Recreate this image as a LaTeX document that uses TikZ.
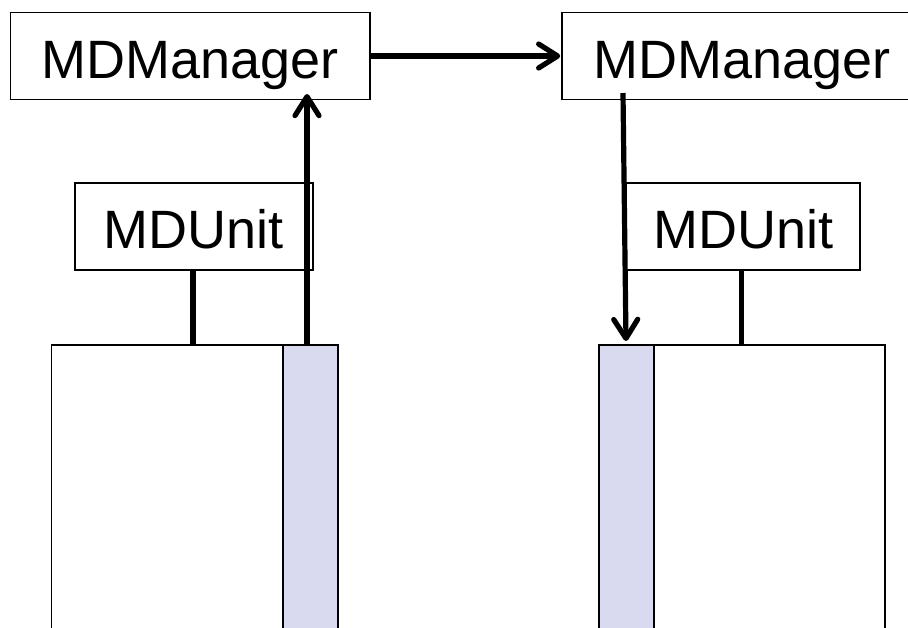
\documentclass[tikz,border=0pt]{standalone}
\usepackage{fontspec}
\setmainfont{Liberation Sans}
\usetikzlibrary{arrows.meta}
\definecolor{stripfill}{HTML}{D9D9F0}
\tikzset{
  box/.style={draw=black, line width=1.5pt, fill=white, inner sep=0pt,
    text height=44pt, text depth=0pt,
    font=\fontsize{54}{60}\selectfont},
  cell/.style={draw=black, line width=1.5pt, fill=white, inner sep=0pt},
  strip/.style={draw=black, line width=1.5pt, fill=stripfill, inner sep=0pt},
  link/.style={line width=5.2pt},
  arr/.style={line width=5.2pt,
    -{Straight Barb[length=19pt,width=24pt,line cap=round,line join=round]}},
}
\begin{document}
\begin{tikzpicture}[x=1pt,y=-1pt]
  \useasboundingbox (0,0) rectangle (908,627);
  \clip (0,0) rectangle (908,627);

  % memory areas, open towards the bottom
  \node[cell, minimum width=286.3pt, minimum height=300pt, anchor=north west] (cellA) at (50.7,344) {};
  \node[strip, minimum width=55pt, minimum height=300pt, anchor=north west] (stripA) at (282,344) {};
  \node[cell, minimum width=286pt, minimum height=300pt, anchor=north west] (cellB) at (598,344) {};
  \node[strip, minimum width=55pt, minimum height=300pt, anchor=north west] (stripB) at (598,344) {};

  % managers and units
  \node[box, minimum width=359.7pt, minimum height=86.6pt] (mgrA) at (190.2,56) {MDManager};
  \node[box, minimum width=360pt, minimum height=86.6pt] (mgrB) at (742,56) {MDManager};
  \node[box, minimum width=238pt, minimum height=87pt] (unitA) at (194,226.5) {MDUnit};
  \node[box, minimum width=233.3pt, minimum height=87pt] (unitB) at (743.3,226.5) {MDUnit};

  % unit attachments
  \draw[link] ([xshift=-1pt]unitA.south) -- ([xshift=-1pt]unitA.south |- cellA.north);
  \draw[link] ([xshift=-2pt]unitB.south) -- ([xshift=-2pt]unitB.south |- cellB.north);

  % message path
  \coordinate (upStart) at (307,344);
  \coordinate (upEnd) at (307,94);
  \coordinate (downStart) at (623,93);
  \coordinate (downEnd) at (626,341);
  \draw[arr] (upStart) -- (upEnd);
  \draw[arr] (mgrA.east) -- ([xshift=-1pt]mgrB.west);
  \draw[arr] (downStart) -- (downEnd);
\end{tikzpicture}
\end{document}
